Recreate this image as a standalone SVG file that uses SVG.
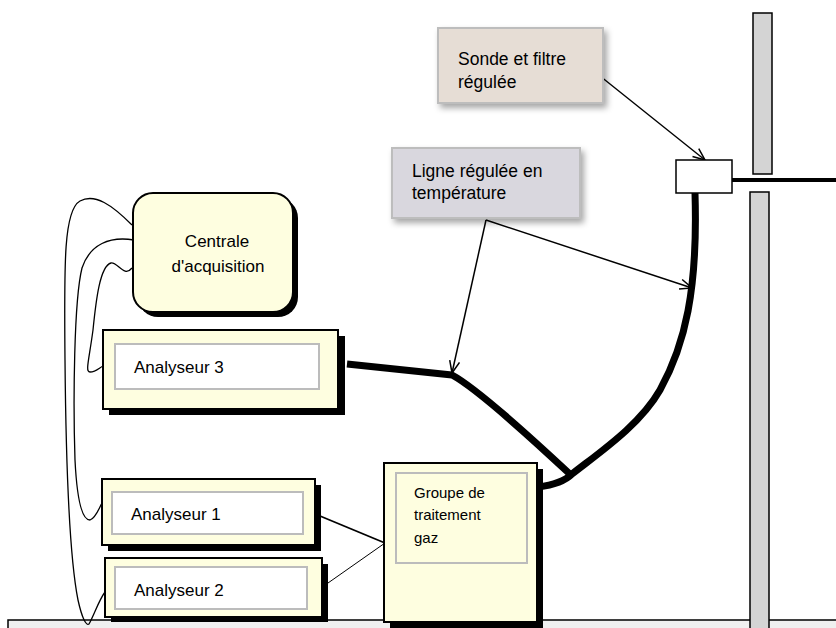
<svg xmlns="http://www.w3.org/2000/svg" width="836" height="628" viewBox="0 0 836 628">
<style>
  text { font-family: "Liberation Sans", Arial, sans-serif; fill: #000; }
  .t17 { font-size: 17px; }
  .t18 { font-size: 17.5px; }
  .t15 { font-size: 15px; }
  .yellow { fill: #fefee0; stroke: #000; stroke-width: 2; }
  .shadow { fill: #000; }
  .inner { fill: #fff; stroke: #bcbcbc; stroke-width: 2; }
  .inner2 { fill: none; stroke: #bcbcbc; stroke-width: 2; }
  .wire { fill: none; stroke: #000; stroke-width: 1.3; }
  .cable { fill: none; stroke: #000; stroke-width: 7; stroke-linejoin: round; }
  .arrow { fill: none; stroke: #000; stroke-width: 1.5; }
  .bar { fill: #d4d4d4; stroke: #000; stroke-width: 1.5; }
</style>
<defs>
  <filter id="soft" x="-20%" y="-20%" width="150%" height="160%">
    <feDropShadow dx="3" dy="4" stdDeviation="3" flood-color="#000" flood-opacity="0.35"/>
  </filter>
  <marker id="vhead" markerWidth="16" markerHeight="14" refX="13" refY="6" orient="auto" markerUnits="userSpaceOnUse">
    <polyline points="1,1 13,6 1,11" fill="none" stroke="#000" stroke-width="1.5"/>
  </marker>
</defs>

<g id="ground">
  <rect x="8" y="620" width="832" height="12" fill="#f0f0f0" stroke="#000" stroke-width="1.5"/>
</g>

<g id="connectors">
  <path class="wire" d="M132,225 C112,205 95,193 80,201 C64,210 64,260 65,360 C66,470 70,560 78,600 C82,618 86,626 89,624 C94,615 99,600 105,592"/>
  <path class="wire" d="M134,240 C110,236 90,244 82,268 C74,300 73,400 75,460 C77,500 82,520 90,520 C96,518 99,508 102,503"/>
  <path class="wire" d="M132,268 C124,278 118,262 111,263 C100,266 96,300 93,330 C89,360 85,372 90,372 C96,372 99,368 103,366"/>
  <path class="cable" d="M347,364 L452,375 Q480,390 572,476"/>
  <path class="cable" d="M538,487 Q562,484 572,474 C600,452 640,425 660,390 C685,345 698,290 695,193"/>
  <line x1="320" y1="516" x2="385" y2="543" stroke="#000" stroke-width="1.8"/>
  <line x1="328" y1="583" x2="385" y2="543" stroke="#000" stroke-width="1"/>
  <line class="arrow" x1="600" y1="76" x2="705" y2="160" stroke-width="2" marker-end="url(#vhead)"/>
  <line class="arrow" x1="486" y1="220" x2="452" y2="373" marker-end="url(#vhead)"/>
  <line class="arrow" x1="486" y1="220" x2="692" y2="288" marker-end="url(#vhead)"/>
  <line x1="732" y1="180" x2="836" y2="180" stroke="#000" stroke-width="4"/>
</g>

<g id="bar-top">
  <rect class="bar" x="753" y="13" width="19" height="161"/>
</g>
<g id="bar-bottom">
  <rect class="bar" x="750" y="192" width="19" height="440"/>
</g>

<g id="sonde-box">
  <rect x="676" y="160" width="56" height="33" fill="#fff" stroke="#000" stroke-width="1.5"/>
</g>

<g id="sonde-label">
  <rect x="438" y="28" width="165" height="75" fill="#e6ddd5" stroke="#bdbdbd" stroke-width="2" filter="url(#soft)"/>
  <text class="t18" x="458" y="65">Sonde et filtre</text>
  <text class="t18" x="458" y="88">régulée</text>
</g>

<g id="ligne-label">
  <rect x="392" y="148" width="188" height="70" fill="#d9d7de" stroke="#bdbdbd" stroke-width="2" filter="url(#soft)"/>
  <text class="t18" x="412" y="177">Ligne régulée en</text>
  <text class="t18" x="412" y="199">température</text>
</g>

<g id="centrale">
  <rect class="shadow" x="138" y="198" width="160" height="119" rx="20"/>
  <rect class="yellow" x="133" y="193" width="160" height="119" rx="20"/>
  <text class="t17" x="217" y="247" text-anchor="middle">Centrale</text>
  <text class="t17" x="218" y="272" text-anchor="middle">d'acquisition</text>
</g>

<g id="analyseur3">
  <rect class="shadow" x="109" y="336" width="236" height="79"/>
  <rect class="yellow" x="103" y="330" width="235" height="79"/>
  <rect class="inner" x="115" y="344" width="204" height="45"/>
  <text class="t17" x="134" y="373">Analyseur 3</text>
</g>

<g id="analyseur1">
  <rect class="shadow" x="108" y="485" width="213" height="66"/>
  <rect class="yellow" x="102" y="479" width="213" height="66"/>
  <rect class="inner" x="112" y="492" width="191" height="42"/>
  <text class="t17" x="131" y="520">Analyseur 1</text>
</g>

<g id="analyseur2">
  <rect class="shadow" x="111" y="564" width="217" height="58"/>
  <rect class="yellow" x="105" y="558" width="217" height="59"/>
  <rect class="inner" x="115" y="567" width="192" height="42"/>
  <text class="t17" x="134" y="596">Analyseur 2</text>
</g>

<g id="groupe">
  <rect class="shadow" x="390" y="469" width="153" height="159"/>
  <rect class="yellow" x="384" y="463" width="153" height="159"/>
  <rect class="inner2" x="396" y="473" width="131" height="90"/>
  <text class="t15" x="414" y="498">Groupe de</text>
  <text class="t15" x="414" y="520">traitement</text>
  <text class="t15" x="414" y="543">gaz</text>
</g>
</svg>
